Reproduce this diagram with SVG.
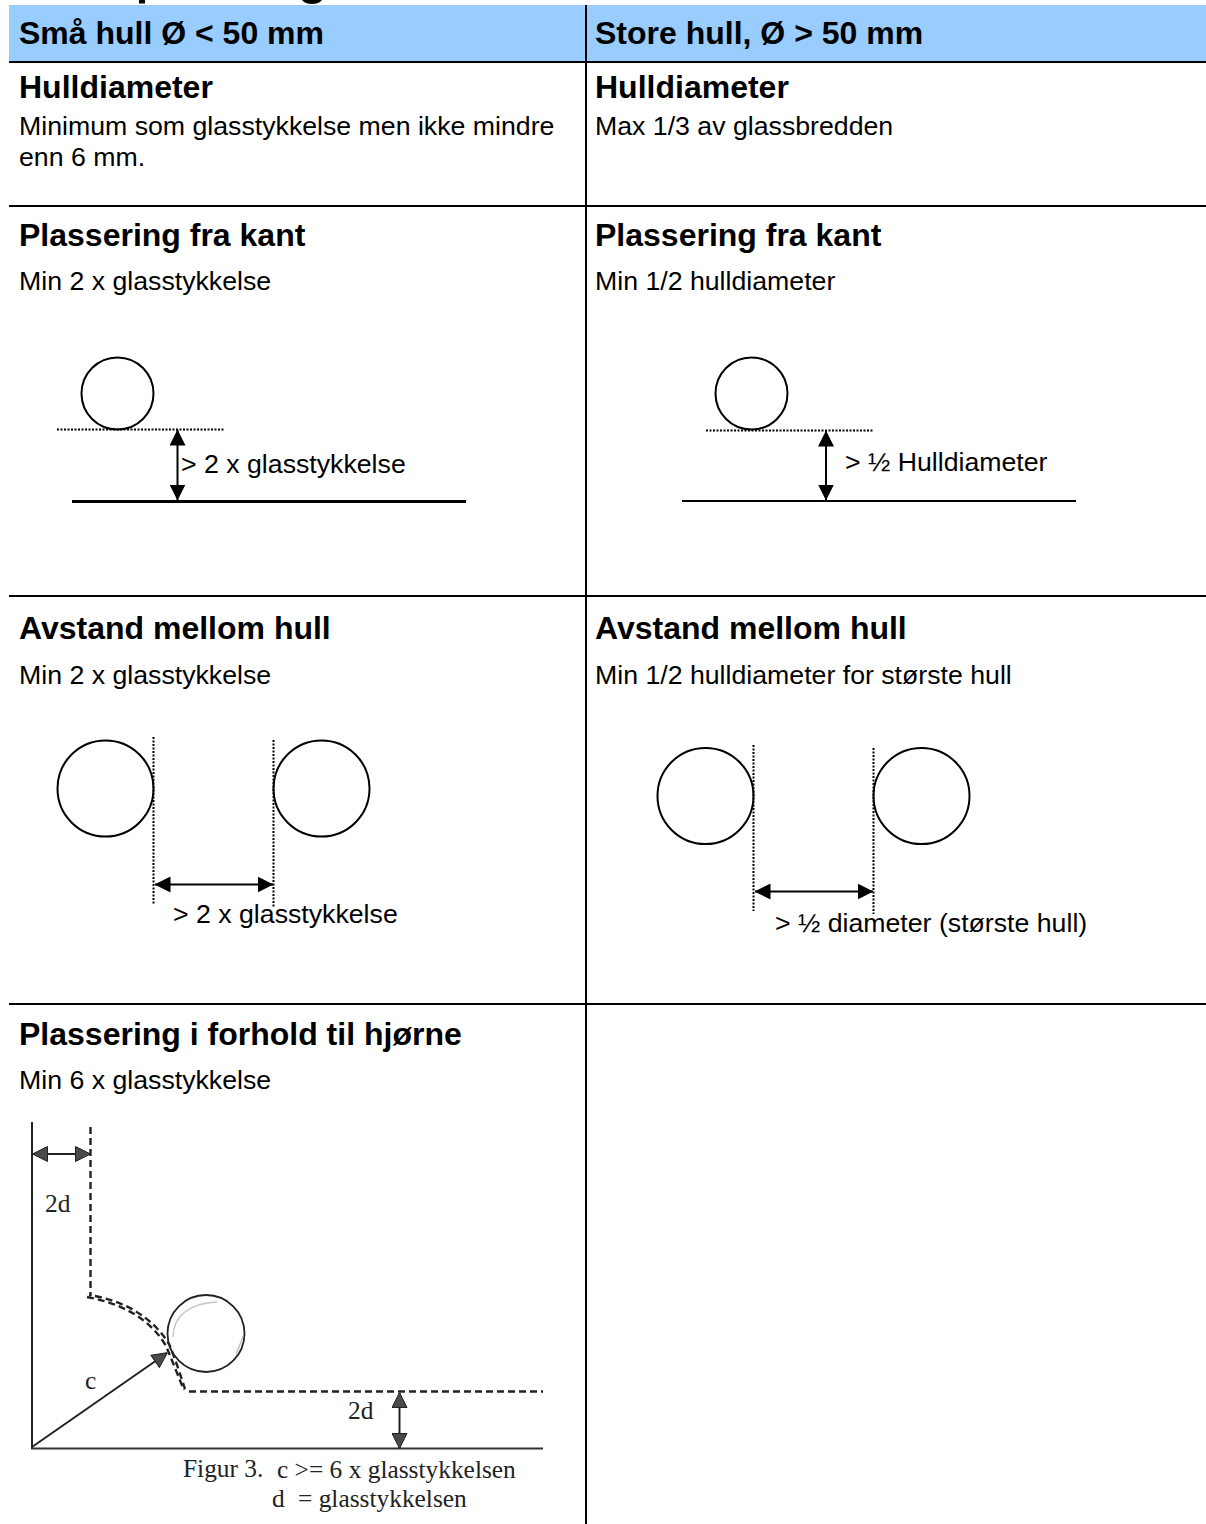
<svg xmlns="http://www.w3.org/2000/svg" width="1206" height="1524" viewBox="0 0 1206 1524">
<defs>
<marker id="ah" viewBox="0 0 16 16" refX="15.500" refY="8" markerWidth="16" markerHeight="16" markerUnits="userSpaceOnUse" orient="auto-start-reverse"><path d="M0 0L16 8L0 16Z" fill="#000"/></marker>
<marker id="ag" viewBox="0 0 16 16" refX="15.500" refY="8" markerWidth="16" markerHeight="16" markerUnits="userSpaceOnUse" orient="auto-start-reverse"><path d="M1 0.500L16 8L1 15.500Z" fill="#4a4a4a" stroke="#222"/></marker>
</defs>
<style>
text{font-family:"Liberation Sans",Arial,sans-serif;fill:#000}
.h{font-size:32px;font-weight:700}
.t{font-size:26.700px}
.s{font-family:"Liberation Serif","Times New Roman",serif;font-size:25.400px;fill:#222}
.rule{stroke:#000;stroke-width:2;fill:none}
.c{fill:none;stroke:#000;stroke-width:2}
.dot{stroke:#000;stroke-width:2;stroke-dasharray:2 1.500;fill:none}
.dim{stroke:#000;stroke-width:2;fill:none;marker-start:url(#ah);marker-end:url(#ah)}
.dimg{stroke:#222;stroke-width:2;fill:none;marker-start:url(#ag);marker-end:url(#ag)}
.dash{stroke:#222;stroke-width:2.400;stroke-dasharray:7 4;fill:none}
</style>
<rect width="1206" height="1524" fill="#fff"/>
<g id="header-clip"><rect x="139" y="0" width="6" height="3.500" fill="#000"/><path d="M302 0h20q-3 4-10 4t-10-4z" fill="#000"/></g>
<rect id="header-bg" x="9" y="5" width="1197" height="56" fill="#99ccff"/>
<g id="connectors">
<path class="rule" d="M586 5V1524M9 62H1206M9 206H1206M9 596H1206M9 1004H1206"/>
</g>
<g id="cell-header-left"><text class="h" x="19" y="44">Små hull Ø &lt; 50 mm</text></g>
<g id="cell-header-right"><text class="h" x="595" y="44">Store hull, Ø &gt; 50 mm</text></g>
<g id="cell-diameter-left"><text class="h" x="19" y="98">Hulldiameter</text><text class="t" x="19" y="135">Minimum som glasstykkelse men ikke mindre</text><text class="t" x="19" y="166">enn 6 mm.</text></g>
<g id="cell-diameter-right"><text class="h" x="595" y="98">Hulldiameter</text><text class="t" x="595" y="135">Max 1/3 av glassbredden</text></g>
<g id="cell-edge-left"><text class="h" x="19" y="246">Plassering fra kant</text><text class="t" x="19" y="290">Min 2 x glasstykkelse</text>
<circle class="c" cx="117.500" cy="393.500" r="36"/><path class="dot" d="M57 429.500H224"/><path class="dim" d="M177.500 430V500"/><path d="M72 501.500H466" stroke="#000" stroke-width="3"/><text class="t" x="181" y="473">&gt; 2 x glasstykkelse</text></g>
<g id="cell-edge-right"><text class="h" x="595" y="246">Plassering fra kant</text><text class="t" x="595" y="290">Min 1/2 hulldiameter</text>
<circle class="c" cx="751.500" cy="393.500" r="36"/><path class="dot" d="M706 430.500H873"/><path class="dim" d="M826 431V500"/><path d="M682 501H1076" stroke="#000" stroke-width="2"/><text class="t" x="845" y="471">&gt; ½ Hulldiameter</text></g>
<g id="cell-gap-left"><text class="h" x="19" y="639">Avstand mellom hull</text><text class="t" x="19" y="684">Min 2 x glasstykkelse</text>
<circle class="c" cx="105.500" cy="788.500" r="48"/><circle class="c" cx="321.500" cy="788.500" r="48"/><path class="dot" d="M153.500 737V904M273.500 740V907"/><path class="dim" d="M155 884.500H273"/><text class="t" x="173" y="923">&gt; 2 x glasstykkelse</text></g>
<g id="cell-gap-right"><text class="h" x="595" y="639">Avstand mellom hull</text><text class="t" x="595" y="684">Min 1/2 hulldiameter for største hull</text>
<circle class="c" cx="705.500" cy="796" r="48"/><circle class="c" cx="921.500" cy="796" r="48"/><path class="dot" d="M753.500 745V911M873.500 748V914"/><path class="dim" d="M755 891.500H873"/><text class="t" x="775" y="932">&gt; ½ diameter (største hull)</text></g>
<g id="cell-corner"><text class="h" x="19" y="1045">Plassering i forhold til hjørne</text><text class="t" x="19" y="1089">Min 6 x glasstykkelse</text>
<path d="M32 1122V1448" stroke="#222" stroke-width="2"/><path d="M31 1448.500H543" stroke="#333" stroke-width="2"/>
<path class="dash" d="M90.500 1127V1296"/>
<path class="dash" d="M87 1297C120 1303 150 1318 166 1346C172 1360 178 1376 184 1390"/>
<path class="dash" d="M89 1295C122 1300 152 1316 169 1344C175 1358 180 1374 185 1389" stroke-dashoffset="5" stroke-width="1.500"/>
<path class="dash" d="M189 1391.500H543"/>
<circle cx="206" cy="1333.500" r="38.500" fill="none" stroke="#222" stroke-width="1.800"/>
<path d="M173 1337C173 1316 190 1303 217 1302M236 1354C239 1348 241 1342 243 1336" fill="none" stroke="#c4c4c4" stroke-width="1.500"/>
<path class="dimg" d="M33 1154H90"/><path class="dimg" d="M399.500 1393V1448"/>
<path d="M32 1447L167 1353" stroke="#222" stroke-width="2" fill="none" marker-end="url(#ag)"/>
<text class="s" x="45" y="1212">2d</text><text class="s" x="85" y="1389">c</text><text class="s" x="348" y="1419">2d</text>
<text class="s" x="183" y="1477">Figur 3.</text><text class="s" x="277" y="1478">c &gt;= 6 x glasstykkelsen</text><text class="s" x="272" y="1507">d</text><text class="s" x="298" y="1507">= glasstykkelsen</text></g>
</svg>
